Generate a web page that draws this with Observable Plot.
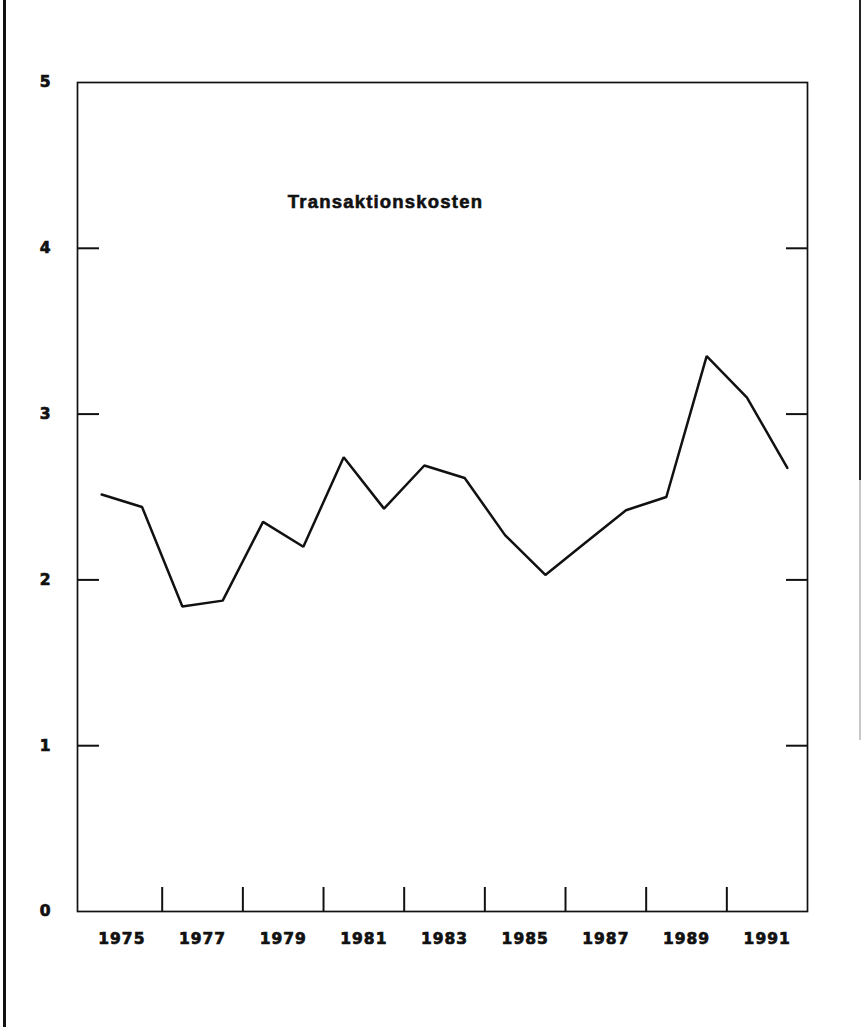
<!DOCTYPE html>
<html><head><meta charset="utf-8">
<script src="https://cdn.jsdelivr.net/npm/d3@7"></script>
<script src="https://cdn.jsdelivr.net/npm/@observablehq/plot@0.6"></script>
<style>
body{margin:0;background:#fff;}
#wrap{position:relative;width:862px;height:1027px;overflow:hidden;background:#fff;}
.bl{position:absolute;left:3px;top:0;width:3px;height:1027px;background:#111;}
.br{position:absolute;left:859px;top:0;width:2px;height:480px;background:#222;}
.br2{position:absolute;left:859px;top:480px;width:2px;height:260px;background:#c8c8c8;}
.ch text{letter-spacing:1px;font-family:"DejaVu Sans";font-weight:bold;stroke:#111;stroke-width:0.7px;}
.ch .ttl text{font-family:"Liberation Sans";letter-spacing:1.2px;stroke-width:0.6px;}
</style></head><body>
<div id="wrap"><div id="chart"></div><div class="bl"></div><div class="br"></div><div class="br2"></div></div>
<script>
const years = [1974,1975,1976,1977,1978,1979,1980,1981,1982,1983,1984,1985,1986,1987,1988,1989,1990,1991];
const values = [2.515,2.44,1.84,1.875,2.35,2.20,2.74,2.43,2.69,2.615,2.27,2.03,2.225,2.42,2.50,3.35,3.10,2.675];
const yLabels = [0,1,2,3,4,5];
const yInnerTicks = [1,2,3,4];
const xLabels = [1975,1977,1979,1981,1983,1985,1987,1989,1991];
const xInnerTicks = [1976,1978,1980,1982,1984,1986,1988,1990];
const title = "Transaktionskosten";

const data = years.map((yr, i) => ({x: yr + 0.5, v: values[i]}));
const ink = "#111";

const chart = Plot.plot({
  width: 862, height: 1027,
  marginLeft: 77, marginRight: 55, marginTop: 82, marginBottom: 116,
  className: "ch",
  style: {fontFamily: "DejaVu Sans", fontSize: "15px", fontWeight: "bold", background: "white", color: ink, overflow: "visible"},
  x: {domain: [1973.9, 1992], axis: null},
  y: {domain: [0, 5], axis: null},
  marks: [
    Plot.frame({stroke: ink, strokeWidth: 1.7}),
    Plot.axisY(yInnerTicks, {anchor: "left", tickSize: 22, dx: 22, tickFormat: () => "", label: null, strokeWidth: 2}),
    Plot.axisY(yInnerTicks, {anchor: "right", tickSize: 22, dx: -22, tickFormat: () => "", label: null, strokeWidth: 2}),
    Plot.axisX(xInnerTicks, {anchor: "bottom", tickSize: 24, dy: -24, tickFormat: () => "", label: null, strokeWidth: 2}),
    Plot.axisY(yLabels, {anchor: "left", tickSize: 0, tickPadding: 26, label: null, tickFormat: d => String(d), fontSize: 15.5, fill: ink}),
    Plot.axisX(xLabels, {anchor: "bottom", tickSize: 0, tickPadding: 21, label: null, tickFormat: d => String(d), fontSize: 15.5, fill: ink}),
    Plot.line(data, {x: "x", y: "v", stroke: ink, strokeWidth: 2.5, strokeLinejoin: "miter"}),
    Plot.text([title], {className: "ttl", frameAnchor: "top", dx: -57, dy: 112, text: d => d, fontSize: 18.5, lineAnchor: "top", fill: ink})
  ]
});
document.getElementById("chart").appendChild(chart);
</script>
</body></html>
